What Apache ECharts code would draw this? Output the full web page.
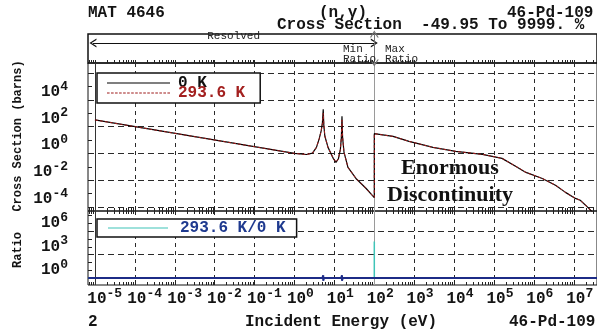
<!DOCTYPE html>
<html><head><meta charset="utf-8">
<script src="https://cdn.jsdelivr.net/npm/echarts@6/dist/echarts.min.js"></script>
<style>html,body{margin:0;padding:0;background:#fff}#c{width:597px;height:333px}</style>
</head><body><div id="c"></div>
<script>
// ---- data (log10 values) ----
const logE_0K   = [-5, 0, 0.3, 0.45, 0.55, 0.62, 0.67, 0.70, 0.72, 0.735, 0.76, 0.84, 0.97, 1.04, 1.10, 1.15, 1.175, 1.19, 1.205, 1.24, 1.34, 1.54, 1.79, 2.0, 2.0, 2.47, 2.87, 3.47, 4.04, 4.71, 5.2, 5.55, 5.8, 6.21, 6.55, 6.79, 7.04, 7.16, 7.35, 7.6];
const logXS_0K  = [2.5, 0.0, -0.08, 0.02, 0.45, 1.1, 1.7, 2.3, 3.3, 2.1, 1.3, 0.45, -0.37, -0.67, -0.4, 0.3, 1.2, 2.77, 1.2, 0.1, -1.04, -1.87, -2.6, -3.3, 1.47, 1.27, 0.9, 0.45, 0.15, -0.07, -0.37, -0.97, -1.42, -1.87, -2.39, -2.91, -3.36, -3.5, -4.03, -4.8];
const logE_293  = [-5, 0, 0.3, 0.45, 0.55, 0.62, 0.67, 0.70, 0.72, 0.735, 0.76, 0.84, 0.97, 1.04, 1.10, 1.15, 1.175, 1.19, 1.205, 1.24, 1.34, 1.54, 1.79, 2.0, 2.0, 2.47, 2.87, 3.47, 4.04, 4.71, 5.2, 5.55, 5.8, 6.21, 6.55, 6.79, 7.04, 7.16, 7.35, 7.6];
const logXS_293 = [2.5, 0.0, -0.08, 0.02, 0.45, 1.1, 1.7, 2.2, 3.0, 2.2, 1.3, 0.45, -0.37, -0.65, -0.4, 0.3, 1.25, 2.5, 1.25, 0.1, -1.04, -1.87, -2.6, -3.3, 1.47, 1.27, 0.9, 0.45, 0.15, -0.07, -0.37, -0.97, -1.42, -1.87, -2.39, -2.91, -3.36, -3.5, -4.03, -4.8];
const logE_ratio   = [-5.17, 2.0, 2.0, 2.0, 7.6];
const logRatio     = [0, 0, 4.7, 0, 0];
const logE_unity   = [-5.17, 0.70, 0.72, 0.72, 0.74, 1.17, 1.19, 1.19, 1.21, 7.6];
const logRatioBase = [0, 0, 0.35, -0.35, 0, 0, 0.35, -0.35, 0, 0];
const resolvedStartLog = -5.05;
const maxRatioLog = 2.0;
// ---- ticks ----
const xDecades = [-5,-4,-3,-2,-1,0,1,2,3,4,5,6,7];
const xLabelsOdd = [-5,-3,-1,1,3,5,7];
const xLabelsEven = [-4,-2,0,2,4,6];
const upperYLabels = [-4,-2,0,2,4];
const upperYSplit = [-4,-2,0,2,4,6];
const upperYOdd = [-3,-1,1,3,5];
const lowerYLabels = [0,3,6];
const lowerYOther = [1,2,4,5,7,8];

const xMin = -5.174, xMax = 7.58;
const minorX = [];
for (let d = -6; d <= 7; d++) for (let k = 2; k <= 9; k++) { const v = d + Math.log10(k); if (v > xMin && v < xMax) minorX.push(v); }
const allX = xDecades.concat(minorX);

const MONO = '"Liberation Mono", "Courier New", monospace';
const TXT = '#141414';
const rich = {
  b: {fontFamily: MONO, fontWeight: 'bold', fontSize: 16, lineHeight: 20, verticalAlign: 'bottom', color: TXT},
  e: {fontFamily: MONO, fontWeight: 'bold', fontSize: 13, lineHeight: 20, verticalAlign: 'top', color: TXT},
  s1: {width: 11.8, fontSize: 13, lineHeight: 20},
  s2: {width: 19.6, fontSize: 13, lineHeight: 20}
};
function xLab(v) { const n = Math.round(v); const s = String(n); return '{' + (s.length > 1 ? 's2' : 's1') + '| }{b|10}{e|' + s + '}'; }
function yLab(v) { const n = Math.round(v); return '{b|10}{e|' + n + '}'; }

const pairs = (a, b) => a.map((x, i) => [x, b[i]]);
const dashedX = {show: true, lineStyle: {color: '#2a2a2a', type: [4, 4], width: 1}};
const dashedY = {show: true, lineStyle: {color: '#2a2a2a', type: [6, 4], width: 1}};
function xAx(grid, pos, opts) {
  return Object.assign({type: 'value', gridIndex: grid, position: pos, min: xMin, max: xMax,
    axisLine: {show: false, onZero: false}, axisLabel: {show: false}, splitLine: {show: false},
    axisTick: {show: false}}, opts);
}
function yAx(grid, min, max, opts) {
  return Object.assign({type: 'value', gridIndex: grid, position: 'left', min: min, max: max,
    axisLine: {show: false, onZero: false}, axisLabel: {show: false}, splitLine: {show: false},
    axisTick: {show: false}}, opts);
}
const tick = (vals, len) => ({show: true, inside: true, length: len, customValues: vals, lineStyle: {color: '#222', width: 1}});
const xLabelCfg = vals => ({show: true, customValues: vals, formatter: xLab, rich: rich, margin: 2,
  showMinLabel: true, showMaxLabel: true, hideOverlap: false});
const chevron = 'path://M0,10 L5,0 L10,10 L8.4,10 L5,3 L1.6,10 Z';
const solidIcon = 'path://M0,0 H63 V1 H0 Z';
let dashIcon = 'path://';
for (let i = 0; i < 16; i++) dashIcon += 'M' + (i * 4) + ',0 h2.6 v1 h-2.6 Z ';

const vLines = {silent: true, animation: false, symbol: 'none', label: {show: false}, z: 1,
  lineStyle: {color: '#9a9a9a', width: 1, type: 'solid'}, emphasis: {disabled: true},
  data: [{xAxis: maxRatioLog}, {xAxis: xDecades[0], lineStyle: {color: '#333'}}]};

const option = {
  animation: false,
  grid: [
    {left: 88, right: -5, top: 34, height: 29, show: true, borderColor: '#111', borderWidth: 1.5, backgroundColor: 'transparent'},
    {left: 88, right: -5, top: 63, height: 148, show: true, borderColor: '#111', borderWidth: 1, backgroundColor: 'transparent'},
    {left: 88, right: -5, top: 211, height: 74, show: true, borderColor: '#111', borderWidth: 1, backgroundColor: 'transparent'}
  ],
  xAxis: [
    xAx(0, 'bottom', {axisTick: tick(allX, 3)}),
    xAx(1, 'bottom', {axisTick: tick(xDecades, 5), splitLine: dashedX}),
    xAx(1, 'bottom', {axisTick: tick(minorX, 3)}),
    xAx(2, 'top', {axisTick: tick(allX, 3)}),
    xAx(2, 'bottom', {axisTick: tick(xDecades, 5), splitLine: dashedX, axisLabel: xLabelCfg(xLabelsOdd)}),
    xAx(2, 'bottom', {axisTick: tick(minorX, 3)}),
    xAx(2, 'bottom', {axisLabel: xLabelCfg(xLabelsEven)})
  ],
  yAxis: [
    yAx(0, 0, 1, {show: false}),
    yAx(1, -4.3, 6.75, {axisTick: tick(upperYSplit, 4), splitLine: dashedY,
      axisLabel: {show: true, customValues: upperYLabels, formatter: yLab, rich: rich, margin: 20, verticalAlign: 'bottom'}}),
    yAx(1, -4.3, 6.75, {axisTick: tick(upperYOdd, 4)}),
    yAx(2, -0.9, 8.6, {axisTick: tick(lowerYLabels, 4), splitLine: dashedY,
      axisLabel: {show: true, customValues: lowerYLabels, formatter: yLab, rich: rich, margin: 20, verticalAlign: 'bottom'}}),
    yAx(2, -0.9, 8.6, {axisTick: tick(lowerYOther, 4)})
  ],
  legend: [
    {data: [{name: '0 K', icon: solidIcon, itemStyle: {color: '#000', opacity: 1}, textStyle: {color: '#111'}},
            {name: '293.6 K', icon: dashIcon, itemStyle: {color: '#9e1b1b', opacity: 1}, textStyle: {color: '#a3201f'}}],
     left: 97, top: 73, orient: 'vertical', itemWidth: 63, itemHeight: 2.4, itemGap: -6,
     padding: [2, 15, 2, 10], borderColor: '#111', borderWidth: 1.5, backgroundColor: '#fff',
     textStyle: {fontFamily: MONO, fontWeight: 'bold', fontSize: 16, padding: [0,0,0,3]},
     selectedMode: false, z: 10},
    {data: [{name: '293.6 K/0 K', icon: solidIcon, itemStyle: {color: '#3fc4b8', opacity: 1}, textStyle: {color: '#1f3a8f'}}],
     left: 97, top: 219, orient: 'vertical', itemWidth: 60, itemHeight: 2, itemGap: 0,
     padding: [1, 11, 1, 11], borderColor: '#111', borderWidth: 1.5, backgroundColor: '#fff',
     textStyle: {fontFamily: MONO, fontWeight: 'bold', fontSize: 16, padding: [0,0,0,7]},
     selectedMode: false, z: 10}
  ],
  series: [
    {type: 'line', xAxisIndex: 0, yAxisIndex: 0, data: [[resolvedStartLog, 0.69]], symbol: 'none', silent: true,
     lineStyle: {opacity: 0},
     markLine: {silent: true, animation: false, symbol: [chevron, chevron], symbolSize: [9, 7],
       lineStyle: {color: '#111', width: 1, type: 'solid'},
       label: {show: true, position: 'middle', formatter: p => p.name, distance: 1,
               fontFamily: MONO, fontSize: 11, color: '#222'},
       emphasis: {disabled: true},
       data: [
         [{name: 'Resolved', coord: [resolvedStartLog, 0.69]}, {coord: [maxRatioLog, 0.69]}],
         [{name: '', coord: [maxRatioLog, 0], lineStyle: {color: '#777'}}, {coord: [maxRatioLog, 1]}]
       ]}},
    {type: 'line', xAxisIndex: 1, yAxisIndex: 1, data: [[maxRatioLog, 0]], symbol: 'none', silent: true,
     lineStyle: {opacity: 0}, z: 1, markLine: vLines},
    {name: '0 K', type: 'line', xAxisIndex: 1, yAxisIndex: 1, data: pairs(logE_0K, logXS_0K),
     symbol: 'none', lineStyle: {color: '#000', width: 1.2}, itemStyle: {color: '#000'}, z: 8,
     emphasis: {disabled: true}},
    {name: '293.6 K', type: 'line', xAxisIndex: 1, yAxisIndex: 1, data: pairs(logE_293, logXS_293),
     symbol: 'none', lineStyle: {color: '#9e1b1b', width: 1, type: [3, 2]}, itemStyle: {color: '#9e1b1b'}, z: 9,
     emphasis: {disabled: true}},
    {type: 'line', xAxisIndex: 4, yAxisIndex: 3, data: [[maxRatioLog, 0]], symbol: 'none', silent: true,
     lineStyle: {opacity: 0}, z: 1, markLine: vLines},
    {name: '293.6 K/0 K', type: 'line', xAxisIndex: 4, yAxisIndex: 3, data: pairs(logE_ratio, logRatio),
     symbol: 'none', lineStyle: {color: '#3fc4b8', width: 1.5}, itemStyle: {color: '#3fc4b8'}, z: 10,
     emphasis: {disabled: true}},
    {name: 'unity', type: 'line', xAxisIndex: 4, yAxisIndex: 3, data: pairs(logE_unity, logRatioBase),
     symbol: 'none', lineStyle: {color: '#1c2b86', width: 2}, z: 11, emphasis: {disabled: true}}
  ],
  graphic: [
    {type: 'text', x: 88, y: 13, z: 100, style: {text: 'MAT 4646', font: 'bold 16px ' + MONO, fill: TXT, textVerticalAlign: 'middle'}},
    {type: 'text', x: 319, y: 13, z: 100, style: {text: '(n,\u03b3)', font: 'bold 16px ' + MONO, fill: TXT, textVerticalAlign: 'middle'}},
    {type: 'text', x: 507, y: 13, z: 100, style: {text: '46-Pd-109', font: 'bold 16px ' + MONO, fill: TXT, textVerticalAlign: 'middle'}},
    {type: 'text', x: 277, y: 25, z: 100, style: {text: 'Cross Section  -49.95 To 9999. %', font: 'bold 16px ' + MONO, fill: TXT, textVerticalAlign: 'middle'}},
    {type: 'text', x: 343, y: 54, z: 100, style: {text: 'Min\nRatio', font: '11px ' + MONO, lineHeight: 10, fill: '#222', textVerticalAlign: 'middle'}},
    {type: 'text', x: 385, y: 54, z: 100, style: {text: 'Max\nRatio', font: '11px ' + MONO, lineHeight: 10, fill: '#222', textVerticalAlign: 'middle'}},
    {type: 'text', x: 18, y: 136, rotation: Math.PI / 2, z: 100, style: {text: 'Cross Section (barns)', font: 'bold 12px ' + MONO, fill: TXT, textAlign: 'center', textVerticalAlign: 'middle'}},
    {type: 'text', x: 18, y: 250, rotation: Math.PI / 2, z: 100, style: {text: 'Ratio', font: 'bold 12px ' + MONO, fill: TXT, textAlign: 'center', textVerticalAlign: 'middle'}},
    {type: 'text', x: 88, y: 322, z: 100, style: {text: '2', font: 'bold 16px ' + MONO, fill: TXT, textVerticalAlign: 'middle'}},
    {type: 'text', x: 245, y: 322, z: 100, style: {text: 'Incident Energy (eV)', font: 'bold 16px ' + MONO, fill: TXT, textVerticalAlign: 'middle'}},
    {type: 'text', x: 509, y: 322, z: 100, style: {text: '46-Pd-109', font: 'bold 16px ' + MONO, fill: TXT, textVerticalAlign: 'middle'}},
    {type: 'text', x: 450, y: 182, z: 100, style: {text: 'Enormous\nDiscontinuity', font: 'bold 22px "Liberation Serif", serif', lineHeight: 27, fill: '#111', textAlign: 'center', textVerticalAlign: 'middle'}}
  ]
};
const chart = echarts.init(document.getElementById('c'), null, {renderer: 'canvas'});
chart.setOption(option);
</script>
</body></html>
